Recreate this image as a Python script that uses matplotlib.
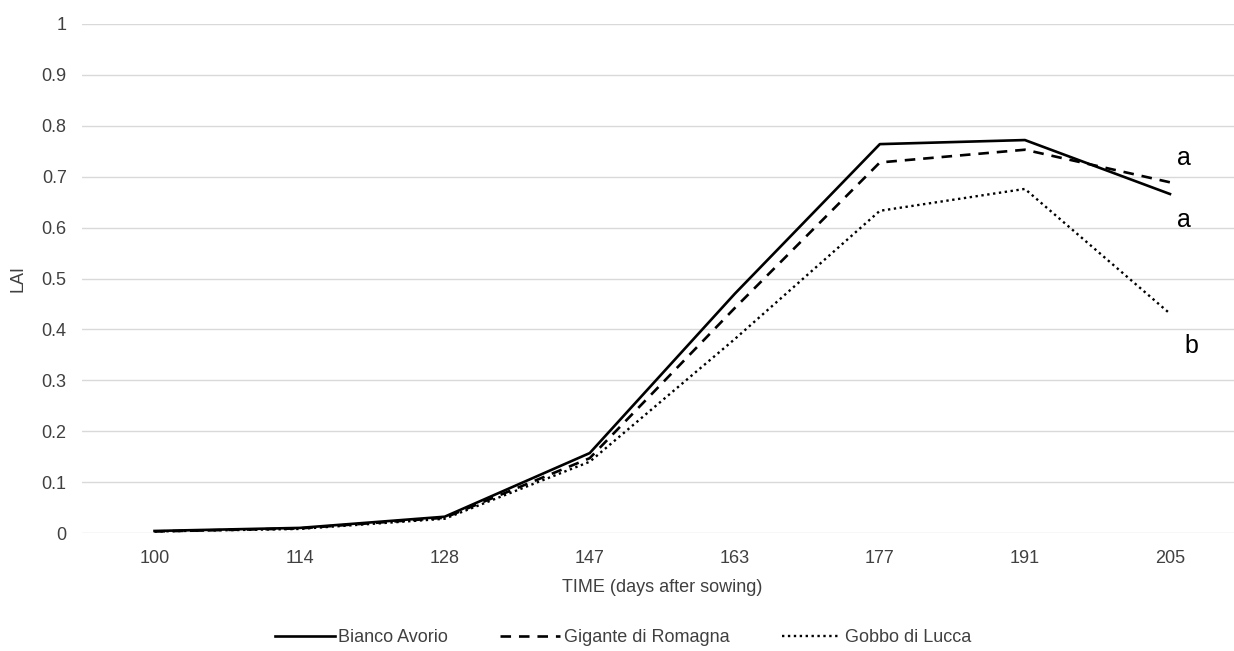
import numpy as np
import matplotlib
matplotlib.use('Agg')
from matplotlib import pyplot as plt

# days after sowing (category axis)
days = ['100', '114', '128', '147', '163', '177', '191', '205']
# LAI
bianco_avorio = [0.004, 0.010, 0.032, 0.157, 0.470, 0.764, 0.772, 0.666]
gigante_romagna = [0.003, 0.009, 0.030, 0.147, 0.442, 0.728, 0.753, 0.689]
gobbo_lucca = [0.003, 0.008, 0.028, 0.140, 0.381, 0.633, 0.676, 0.431]
# significance letters at the last date
sig_letters = ['a', 'a', 'b']
sig_y = [0.723, 0.601, 0.354]

plt.rcParams['font.family'] = ['Liberation Sans', 'DejaVu Sans']
fig = plt.figure(figsize=(12.34, 6.51), dpi=100)
W, H = 1234, 651
ax = fig.add_axes([82 / W, 1 - 533 / H, 1160.5 / W, 509 / H])

x = np.arange(len(days))
ax.plot(x, bianco_avorio, color='black', lw=1.9, ls='-', label='Bianco Avorio')
ax.plot(x, gigante_romagna, color='black', lw=1.9, ls=(0, (4, 3)), label='Gigante di Romagna')
ax.plot(x, gobbo_lucca, color='black', lw=1.7, ls=(0, (1, 1.5)), label='Gobbo di Lucca')

for i, letter in enumerate(sig_letters):
    ax.text(7.05 if letter == 'a' else 7.1, sig_y[i], letter, fontsize=18,
            ha='left', va='baseline', clip_on=False)

ax.set_xlim(-0.5, 7.5)
ax.set_ylim(0, 1)
ax.set_xticks(x)
ax.set_xticklabels(days)
ax.set_yticks(np.arange(0, 1.01, 0.1))
ax.set_yticklabels(['0', '0.1', '0.2', '0.3', '0.4', '0.5', '0.6', '0.7', '0.8', '0.9', '1'])
ax.tick_params(axis='both', length=0, labelsize=13, labelcolor='#404040')
ax.tick_params(axis='x', pad=12)
ax.tick_params(axis='y', pad=11)
ax.grid(axis='y', color='#d9d9d9', lw=1)
ax.set_axisbelow(True)
for s in ax.spines.values():
    s.set_visible(False)

fig.text(662 / W, 1 - 588 / H, 'TIME (days after sowing)', ha='center', va='center',
         fontsize=13, color='#404040')
fig.text(18 / W, 1 - 278 / H, 'LAI', ha='center', va='center', rotation=90,
         fontsize=13, color='#404040')

fig.legend(loc='center', bbox_to_anchor=(623 / W, 1 - 638 / H), ncol=3, frameon=False,
           fontsize=13, handlelength=3.3, handletextpad=0.2, columnspacing=2.9,
           labelcolor='#404040')

fig.savefig('out.png', dpi=100)
